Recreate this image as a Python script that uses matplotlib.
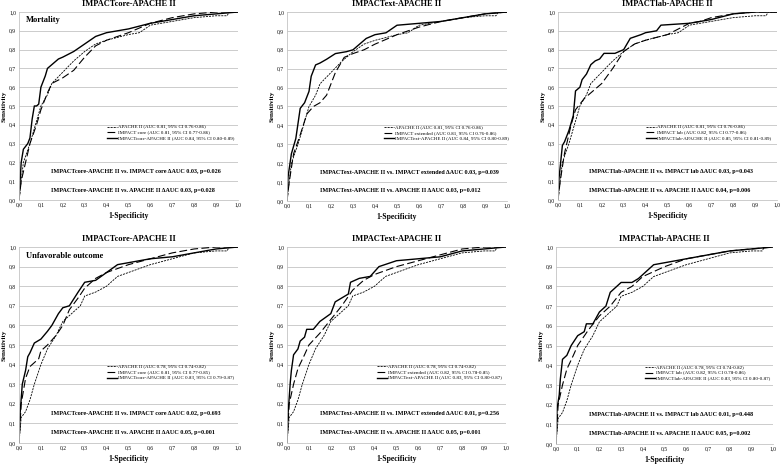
import matplotlib
matplotlib.use("Agg")
import matplotlib.pyplot as plt

plt.rcParams['font.family'] = ['Liberation Serif', 'DejaVu Serif']

titles = ["IMPACTcore-APACHE II", "IMPACText-APACHE II", "IMPACTlab-APACHE II",
          "IMPACTcore-APACHE II", "IMPACText-APACHE II", "IMPACTlab-APACHE II"]
outcome_labels = ["Mortality", None, None, "Unfavorable outcome", None, None]

# APACHE II curves (mortality / unfavorable)
apache_mort_x = [0, 0.01, 0.02, 0.05, 0.08, 0.1, 0.13, 0.15, 0.2, 0.25, 0.3, 0.35, 0.4, 0.5, 0.55, 0.6, 0.7, 0.8, 0.9, 0.95, 0.96, 1]
apache_mort_y = [0, 0.1, 0.2, 0.3, 0.42, 0.5, 0.56, 0.62, 0.68, 0.74, 0.79, 0.83, 0.85, 0.88, 0.89, 0.93, 0.95, 0.97, 0.98, 0.98, 1.0, 1]
apache_unf_x = [0, 0.01, 0.03, 0.05, 0.07, 0.1, 0.13, 0.17, 0.2, 0.25, 0.28, 0.3, 0.35, 0.4, 0.45, 0.5, 0.6, 0.7, 0.8, 0.9, 0.95, 0.96, 1]
apache_unf_y = [0, 0.13, 0.16, 0.22, 0.3, 0.4, 0.48, 0.55, 0.62, 0.67, 0.7, 0.75, 0.77, 0.8, 0.85, 0.87, 0.91, 0.94, 0.97, 0.98, 0.98, 1.0, 1]

# IMPACT models
core_mort_x = [0, 0.01, 0.03, 0.05, 0.08, 0.1, 0.13, 0.15, 0.2, 0.25, 0.3, 0.35, 0.4, 0.5, 0.6, 0.7, 0.8, 0.9, 1]
core_mort_y = [0, 0.1, 0.2, 0.3, 0.4, 0.48, 0.57, 0.62, 0.65, 0.69, 0.76, 0.82, 0.85, 0.89, 0.94, 0.97, 0.99, 1.0, 1]
ext_mort_x = [0, 0.01, 0.03, 0.06, 0.09, 0.12, 0.15, 0.18, 0.2, 0.22, 0.26, 0.3, 0.35, 0.4, 0.5, 0.6, 0.7, 0.8, 0.9, 1]
ext_mort_y = [0, 0.1, 0.25, 0.35, 0.46, 0.5, 0.52, 0.56, 0.62, 0.68, 0.76, 0.78, 0.8, 0.83, 0.88, 0.92, 0.95, 0.97, 0.99, 1]
lab_mort_x = [0, 0.01, 0.03, 0.06, 0.08, 0.12, 0.15, 0.2, 0.25, 0.3, 0.35, 0.4, 0.5, 0.6, 0.65, 0.7, 0.8, 0.9, 1]
lab_mort_y = [0, 0.1, 0.25, 0.4, 0.48, 0.54, 0.57, 0.62, 0.7, 0.79, 0.83, 0.85, 0.88, 0.94, 0.95, 0.97, 0.99, 1.0, 1]
core_unf_x = [0, 0.01, 0.03, 0.05, 0.07, 0.09, 0.1, 0.13, 0.17, 0.2, 0.23, 0.27, 0.3, 0.35, 0.4, 0.45, 0.5, 0.6, 0.7, 0.8, 0.9, 1]
core_unf_y = [0, 0.2, 0.33, 0.39, 0.41, 0.43, 0.47, 0.5, 0.55, 0.6, 0.68, 0.74, 0.79, 0.84, 0.87, 0.89, 0.91, 0.94, 0.97, 0.99, 1.0, 1]
ext_unf_x = [0, 0.01, 0.03, 0.05, 0.08, 0.1, 0.15, 0.2, 0.25, 0.3, 0.35, 0.4, 0.5, 0.6, 0.7, 0.8, 0.9, 1]
ext_unf_y = [0, 0.2, 0.3, 0.38, 0.45, 0.5, 0.56, 0.63, 0.7, 0.78, 0.83, 0.86, 0.9, 0.93, 0.96, 0.99, 1.0, 1]
lab_unf_x = [0, 0.01, 0.03, 0.05, 0.08, 0.1, 0.15, 0.2, 0.25, 0.3, 0.35, 0.4, 0.5, 0.6, 0.7, 0.8, 0.9, 1]
lab_unf_y = [0, 0.2, 0.3, 0.38, 0.45, 0.5, 0.58, 0.65, 0.7, 0.77, 0.8, 0.85, 0.9, 0.94, 0.96, 0.98, 0.99, 1]

# Combined models
comb_core_mort_x = [0, 0.005, 0.01, 0.02, 0.04, 0.05, 0.06, 0.07, 0.08, 0.09, 0.1, 0.11, 0.12, 0.13, 0.15, 0.18, 0.2, 0.25, 0.3, 0.35, 0.4, 0.5, 0.6, 0.7, 0.8, 0.9, 1]
comb_core_mort_y = [0, 0.1, 0.2, 0.27, 0.3, 0.33, 0.43, 0.5, 0.5, 0.51, 0.6, 0.63, 0.66, 0.7, 0.72, 0.75, 0.76, 0.79, 0.83, 0.87, 0.89, 0.91, 0.94, 0.96, 0.98, 0.99, 1]
comb_ext_mort_x = [0, 0.005, 0.02, 0.04, 0.06, 0.08, 0.1, 0.11, 0.13, 0.15, 0.18, 0.22, 0.27, 0.3, 0.33, 0.36, 0.4, 0.45, 0.5, 0.6, 0.7, 0.8, 0.9, 1]
comb_ext_mort_y = [0, 0.13, 0.25, 0.33, 0.49, 0.52, 0.58, 0.66, 0.72, 0.73, 0.75, 0.78, 0.79, 0.8, 0.83, 0.86, 0.88, 0.89, 0.93, 0.94, 0.95, 0.97, 0.99, 1]
comb_lab_mort_x = [0, 0.005, 0.02, 0.03, 0.05, 0.07, 0.08, 0.1, 0.11, 0.13, 0.15, 0.17, 0.19, 0.21, 0.26, 0.3, 0.33, 0.38, 0.4, 0.45, 0.47, 0.6, 0.7, 0.8, 0.9, 1]
comb_lab_mort_y = [0, 0.12, 0.29, 0.31, 0.37, 0.45, 0.58, 0.6, 0.64, 0.67, 0.72, 0.74, 0.75, 0.78, 0.78, 0.8, 0.86, 0.88, 0.89, 0.9, 0.93, 0.94, 0.96, 0.99, 1.0, 1]
comb_core_unf_x = [0, 0.005, 0.015, 0.03, 0.04, 0.05, 0.07, 0.1, 0.13, 0.15, 0.18, 0.2, 0.23, 0.27, 0.3, 0.35, 0.4, 0.45, 0.5, 0.6, 0.7, 0.8, 0.9, 1]
comb_core_unf_y = [0, 0.15, 0.3, 0.37, 0.44, 0.46, 0.51, 0.53, 0.57, 0.6, 0.66, 0.69, 0.7, 0.77, 0.82, 0.83, 0.87, 0.91, 0.92, 0.94, 0.95, 0.97, 0.99, 1]
comb_ext_unf_x = [0, 0.005, 0.015, 0.02, 0.03, 0.05, 0.06, 0.08, 0.09, 0.12, 0.15, 0.2, 0.22, 0.25, 0.28, 0.29, 0.33, 0.38, 0.42, 0.5, 0.6, 0.7, 0.8, 0.9, 1]
comb_ext_unf_y = [0, 0.15, 0.31, 0.37, 0.45, 0.48, 0.52, 0.54, 0.58, 0.58, 0.62, 0.66, 0.72, 0.74, 0.76, 0.82, 0.84, 0.85, 0.9, 0.93, 0.94, 0.95, 0.98, 0.99, 1]
comb_lab_unf_x = [0, 0.005, 0.015, 0.02, 0.03, 0.05, 0.07, 0.1, 0.13, 0.14, 0.17, 0.2, 0.23, 0.25, 0.3, 0.35, 0.38, 0.42, 0.45, 0.5, 0.6, 0.7, 0.8, 0.9, 1]
comb_lab_unf_y = [0, 0.18, 0.25, 0.33, 0.43, 0.45, 0.5, 0.55, 0.57, 0.61, 0.61, 0.67, 0.7, 0.77, 0.82, 0.82, 0.84, 0.88, 0.91, 0.92, 0.94, 0.96, 0.98, 0.99, 1]

apache_x = [apache_mort_x] * 3 + [apache_unf_x] * 3
apache_y = [apache_mort_y] * 3 + [apache_unf_y] * 3
impact_x = [core_mort_x, ext_mort_x, lab_mort_x, core_unf_x, ext_unf_x, lab_unf_x]
impact_y = [core_mort_y, ext_mort_y, lab_mort_y, core_unf_y, ext_unf_y, lab_unf_y]
comb_x = [comb_core_mort_x, comb_ext_mort_x, comb_lab_mort_x, comb_core_unf_x, comb_ext_unf_x, comb_lab_unf_x]
comb_y = [comb_core_mort_y, comb_ext_mort_y, comb_lab_mort_y, comb_core_unf_y, comb_ext_unf_y, comb_lab_unf_y]

apache_labels = ["APACHE II (AUC 0.81, 95% CI 0.76-0.86)"] * 3 + ["APACHE II (AUC 0.78, 95% CI 0.74-0.82)"] * 3
impact_labels = ["IMPACT core (AUC 0.81, 95% CI 0.77-0.86)",
                 "IMPACT extended (AUC 0.81, 95% CI 0.76-0.86)",
                 "IMPACT lab (AUC 0.82, 95% CI 0.77-0.86)",
                 "IMPACT core (AUC 0.81, 95% CI 0.77-0.85)",
                 "IMPACT extended (AUC 0.82, 95% CI 0.78-0.85)",
                 "IMPACT lab (AUC 0.82, 95% CI 0.78-0.86)"]
comb_labels = ["IMPACTcore-APACHE II (AUC 0.84, 95% CI 0.80-0.89)",
               "IMPACText-APACHE II (AUC 0.84, 95% CI 0.80-0.89)",
               "IMPACTlab-APACHE II (AUC 0.85, 95% CI 0.81-0.89)",
               "IMPACTcore-APACHE II (AUC 0.83, 95% CI 0.79-0.87)",
               "IMPACText-APACHE II (AUC 0.83, 95% CI 0.80-0.87)",
               "IMPACTlab-APACHE II (AUC 0.83, 95% CI 0.80-0.87)"]
cmp1 = ["IMPACTcore-APACHE II vs. IMPACT core \u0394AUC 0.03, p=0.026",
        "IMPACText-APACHE II vs. IMPACT extended \u0394AUC 0.03, p=0.039",
        "IMPACTlab-APACHE II vs. IMPACT lab \u0394AUC 0.03, p=0.043",
        "IMPACTcore-APACHE II vs. IMPACT core \u0394AUC 0.02, p=0.693",
        "IMPACText-APACHE II vs. IMPACT extended \u0394AUC 0.01, p=0.256",
        "IMPACTlab-APACHE II vs. IMPACT lab \u0394AUC 0.01, p=0.448"]
cmp2 = ["IMPACTcore-APACHE II vs. APACHE II \u0394AUC 0.03, p=0.028",
        "IMPACText-APACHE II vs. APACHE II \u0394AUC 0.03, p=0.012",
        "IMPACTlab-APACHE II vs. APACHE II \u0394AUC 0.04, p=0.006",
        "IMPACTcore-APACHE II vs. APACHE II \u0394AUC 0.05, p=0.001",
        "IMPACText-APACHE II vs. APACHE II \u0394AUC 0.05, p=0.001",
        "IMPACTlab-APACHE II vs. APACHE II \u0394AUC 0.05, p=0.002"]
ticks = [i / 10 for i in range(11)]
tick_labels = ["0,0", "0,1", "0,2", "0,3", "0,4", "0,5", "0,6", "0,7", "0,8", "0,9", "1,0"]

W, H = 780, 465
fig = plt.figure(figsize=(W / 100, H / 100), dpi=100)
fig.patch.set_facecolor("white")

# pixel boxes: left, right, top, bottom
boxes = [(19, 238, 12, 200), (287, 507, 12, 201), (558, 777, 12, 200),
         (19, 238, 247, 443), (287, 506, 247, 443), (556, 773, 247, 444)]
leg_x = [0.40, 0.44, 0.40, 0.40, 0.41, 0.41]
txt_x = [0.146, 0.15, 0.14, 0.146, 0.15, 0.15]

for i in range(6):
    l, r, t, b = boxes[i]
    ax = fig.add_axes([l / W, (H - b) / H, (r - l) / W, (b - t) / H])
    ax.set_xlim(0, 1)
    ax.set_ylim(0, 1)
    ax.set_xticks(ticks)
    ax.set_xticklabels(tick_labels)
    ax.set_yticks(ticks)
    ax.set_yticklabels(tick_labels)
    ax.tick_params(labelsize=4, length=0, pad=2)
    ax.yaxis.grid(True, color="#c4c4c4", lw=0.6)
    ax.set_axisbelow(True)
    for s in ["top", "right"]:
        ax.spines[s].set_visible(False)
    ax.spines["left"].set_color("#c4c4c4")
    ax.spines["bottom"].set_color("#c4c4c4")
    ax.spines["left"].set_linewidth(0.6)
    ax.spines["bottom"].set_linewidth(0.6)

    ax.plot(apache_x[i], apache_y[i], color="black", lw=0.6, ls=(0, (2.5, 1.2)), label=apache_labels[i])
    ax.plot(impact_x[i], impact_y[i], color="black", lw=0.8, ls=(0, (7, 3)), label=impact_labels[i])
    ax.plot(comb_x[i], comb_y[i], color="black", lw=1.0, ls="-", label=comb_labels[i])

    ax.legend(loc="upper left", bbox_to_anchor=(leg_x[i], 0.40), frameon=False,
              fontsize=3.6, handlelength=2.0, handletextpad=0.3, labelspacing=0.2,
              borderpad=0, borderaxespad=0)

    ax.set_title(titles[i], fontsize=6, fontweight="bold", pad=4)
    ax.set_xlabel("1-Specificity", fontsize=5.5, fontweight="bold", labelpad=3)
    ax.set_ylabel("Sensitivity", fontsize=5, fontweight="bold", labelpad=2)
    if outcome_labels[i]:
        ax.text(0.03, 0.955, outcome_labels[i], fontsize=6, fontweight="bold", va="center", transform=ax.transAxes)
    ax.text(txt_x[i], 0.152, cmp1[i], fontsize=4.4, fontweight="bold", va="center")
    ax.text(txt_x[i], 0.053, cmp2[i], fontsize=4.4, fontweight="bold", va="center")

fig.savefig("out.png", dpi=100, facecolor="white")
